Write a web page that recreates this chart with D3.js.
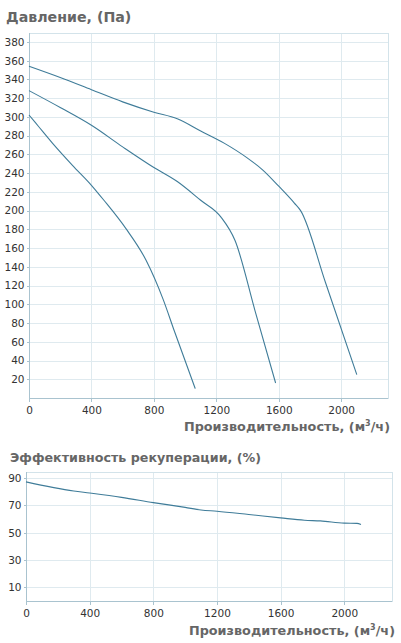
<!DOCTYPE html>
<html>
<head>
<meta charset="utf-8">
<script src="https://cdn.jsdelivr.net/npm/d3@7"></script>
<style>
  html, body { margin: 0; padding: 0; background: #fff; }
  svg { display: block; }
  .grid line { stroke: #dfeaef; stroke-width: 1; shape-rendering: crispEdges; }
  .frame { fill: none; stroke: #d3e3ea; shape-rendering: crispEdges; }
  .axis path, .axis line { stroke: #a9c3cf; shape-rendering: crispEdges; }
  .axis text { font-family: "DejaVu Sans", Verdana, sans-serif; font-size: 10.5px; fill: #333; }
  .title { font-family: "DejaVu Sans", Verdana, sans-serif; font-weight: bold; fill: #666; }
  .curve { fill: none; stroke: #3f7c99; stroke-width: 1.1; }
</style>
</head>
<body>
<svg id="chart" width="401" height="643"></svg>
<script>
// pressure curves, [flow m3/h, Pa]
const pressureLow  = [[0,302],[60,290],[150,272],[280,248],[400,227],[480,211],[620,181],[750,147],[860,105],[930,72],[1065,10]];
const pressureMid  = [[0,328],[200,310],[400,291],[600,268],[800,246],[950,231],[1100,211],[1230,193],[1320,168],[1450,92],[1580,16]];
const pressureHigh = [[0,354],[200,342],[400,329],[600,316],[800,305],[950,298],[1100,285],[1250,272],[1400,256],[1500,243],[1600,226],[1700,208],[1740,200],[1900,123],[2100,25]];
const pressureSeries = [pressureLow, pressureMid, pressureHigh];
const pressureTicks = d3.range(20, 381, 20);

// recuperation efficiency, [flow m3/h, %]
const efficiency = [[0,87.2],[300,80.5],[400,79],[600,75.8],[800,72],[1000,68.5],[1100,66.6],[1200,65.7],[1400,63.3],[1600,60.8],[1750,59.1],[1850,58.6],[2000,57],[2080,56.8],[2105,55.9]];
const efficiencyTicks = [10, 30, 50, 70, 90];

const flowTicks = [0, 400, 800, 1200, 1600, 2000];

const svg = d3.select('#chart');

function drawPanel(opt) {
  const x = d3.scaleLinear().domain([0, 2300]).range([opt.left, opt.right]);
  const y = d3.scaleLinear().domain([0, opt.yMax]).range([opt.bottom, opt.top]);
  const g = svg.append('g');

  // grid
  const grid = g.append('g').attr('class', 'grid');
  grid.selectAll('.h').data(opt.yTicks).join('line')
    .attr('x1', opt.left).attr('x2', opt.right)
    .attr('y1', d => Math.round(y(d)) + 0.5).attr('y2', d => Math.round(y(d)) + 0.5);
  grid.selectAll('.v').data(flowTicks.slice(1)).join('line')
    .attr('y1', opt.top).attr('y2', opt.bottom)
    .attr('x1', d => Math.round(x(d)) + 0.5).attr('x2', d => Math.round(x(d)) + 0.5);

  g.append('rect').attr('class', 'frame')
    .attr('x', opt.left + 0.5).attr('y', opt.top + 0.5)
    .attr('width', opt.right - opt.left).attr('height', opt.bottom - opt.top);

  // axes
  const xa = g.append('g').attr('class', 'axis')
    .attr('transform', `translate(0,${opt.bottom + 0.5})`)
    .call(d3.axisBottom(x).tickValues(flowTicks).tickFormat(d3.format('d'))
      .tickSize(3).tickSizeOuter(0).tickPadding(5));
  xa.select('.domain').attr('d', `M${opt.left},0H${opt.right}`);

  g.append('g').attr('class', 'axis')
    .attr('transform', `translate(${opt.left + 0.5},0)`)
    .call(d3.axisLeft(y).tickValues(opt.yTicks).tickSize(3).tickSizeOuter(0).tickPadding(2))
    .select('.domain').attr('d', `M0,${opt.top}V${opt.bottom}`);

  // curves
  const line = d3.line().x(d => x(d[0])).y(d => y(d[1])).curve(d3.curveMonotoneX);
  g.selectAll('.curve').data(opt.series).join('path')
    .attr('class', 'curve').attr('d', line);

  // titles
  svg.append('text').attr('class', 'title')
    .attr('x', opt.titleX).attr('y', opt.titleY)
    .style('font-size', opt.titleSize + 'px').text(opt.title);
  const xl = svg.append('text').attr('class', 'title')
    .attr('x', opt.xLabelX).attr('y', opt.xLabelY)
    .attr('text-anchor', 'end').style('font-size', '12.8px');
  xl.append('tspan').text('Производительность, (м');
  xl.append('tspan').attr('dy', -5).style('font-size', '8px').text('3');
  xl.append('tspan').attr('dy', 5).text('/ч)');
}

drawPanel({
  left: 29, right: 388, top: 33, bottom: 398, yMax: 389.5,
  yTicks: pressureTicks, series: pressureSeries,
  title: 'Давление, (Па)', titleX: 6, titleY: 22, titleSize: 14.2,
  xLabelX: 390, xLabelY: 431
});

drawPanel({
  left: 26, right: 392, top: 472, bottom: 601, yMax: 94.4,
  yTicks: efficiencyTicks, series: [efficiency],
  title: 'Эффективность рекуперации, (%)', titleX: 10, titleY: 462, titleSize: 12.7,
  xLabelX: 395, xLabelY: 635
});
</script>
</body>
</html>
